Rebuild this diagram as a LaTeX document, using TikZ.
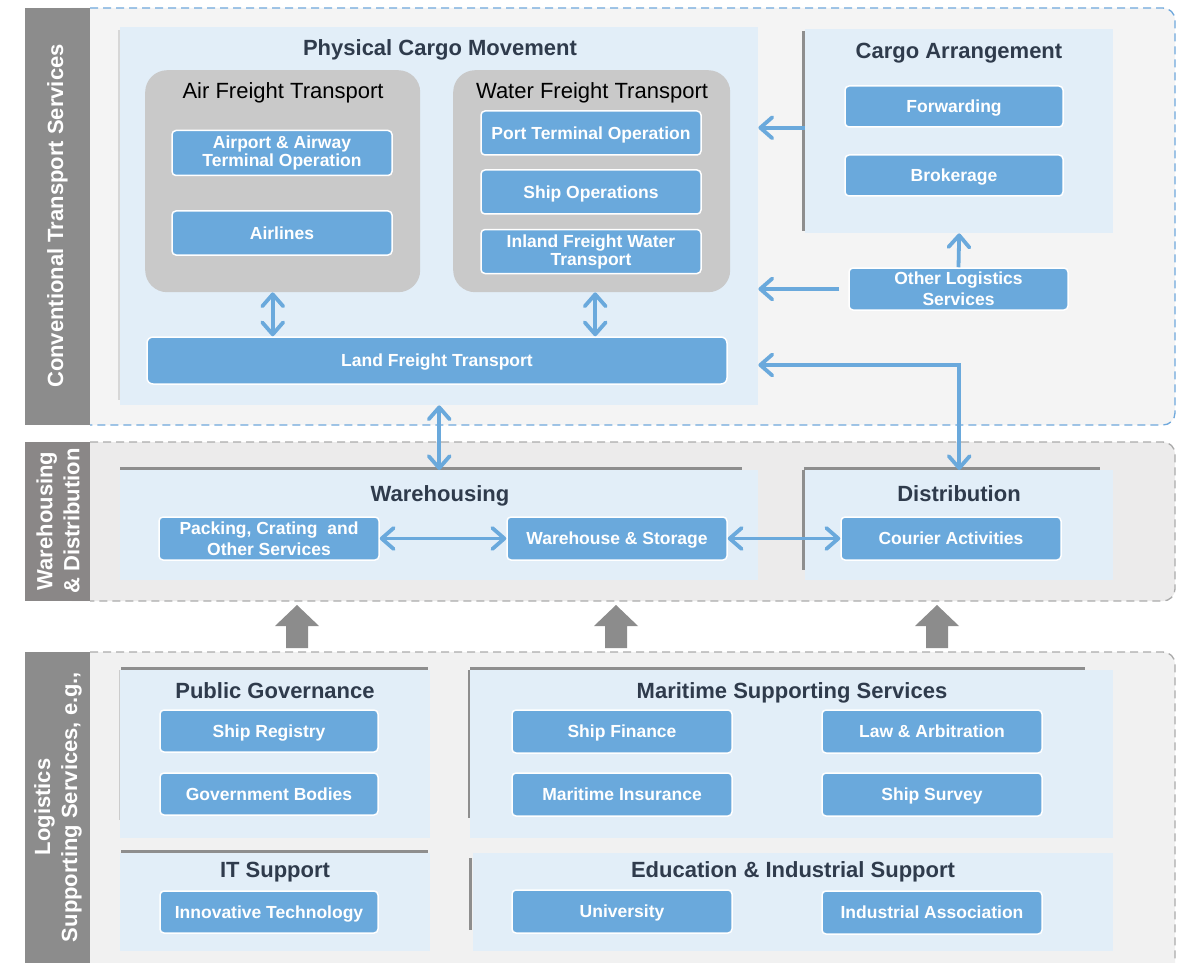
\documentclass[tikz,border=0pt]{standalone}
\usepackage{fontspec}
\setmainfont{Liberation Sans}
\usetikzlibrary{arrows.meta,calc}
\definecolor{boxblue}{HTML}{6AA9DC}
\definecolor{panelblue}{HTML}{E2EEF8}
\definecolor{arrowblue}{HTML}{6AA9DC}
\definecolor{sidegray}{HTML}{8C8C8C}
\definecolor{sidegrayB}{HTML}{8A8787}
\definecolor{titlecol}{HTML}{2F3B4C}
\definecolor{grouphue}{HTML}{C9C9C9}
\definecolor{bandA}{HTML}{F4F4F4}
\definecolor{bandB}{HTML}{ECEBEB}
\definecolor{bandC}{HTML}{F1F1F1}
\definecolor{shadowgray}{HTML}{8E8E8E}
\definecolor{dashgray}{HTML}{ABABAB}
\definecolor{dashblue}{HTML}{6FA8DC}
\begin{document}
\begin{tikzpicture}[x=1pt,y=-1pt,
  >={Straight Barb[length=12pt,width=21pt,round]},
  bbox/.style={draw=white, line width=1.5pt, fill=boxblue, rounded corners=4pt,
    text=white, font=\fontsize{17.5}{18}\selectfont\bfseries, align=center,
    inner sep=0pt, minimum width=220pt, minimum height=44pt},
  oneline/.style={text height=12.5pt, text depth=0pt},
  twoline/.style={font=\fontsize{17.5}{21}\selectfont\bfseries},
  panel/.style={fill=panelblue, inner sep=0pt, anchor=north west},
  group/.style={fill=grouphue, rounded corners=22pt, inner sep=0pt, anchor=north west},
  ptitle/.style={text=titlecol, font=\fontsize{22}{24}\selectfont\bfseries, inner sep=0pt, text height=15.8pt, text depth=0pt},
  gtitle/.style={text=black, font=\fontsize{22}{24}\selectfont, inner sep=0pt, text height=15.8pt, text depth=0pt},
  sidetxt/.style={text=white, font=\fontsize{22}{27}\selectfont\bfseries, align=center, rotate=90, inner sep=0pt},
  barrow/.style={draw=arrowblue, line width=3.8pt},
  bandline/.style={line width=1.3pt, dash pattern=on 8pt off 5pt, rounded corners=12pt},
  shadowline/.style={draw=shadowgray, line width=3.5pt},
  blockarrow/.style={fill=sidegray}
]
\useasboundingbox (0,0) rectangle (1179,963);
\fill[white] (0,0) rectangle (1179,963);

% ---------- bands ----------
\fill[bandA, rounded corners=12pt] (60,8) rectangle (1175,425);
\draw[bandline, draw=dashblue] (90,8) -- (1175,8) -- (1175,425) -- (90,425);
\fill[sidegray] (25,8) rectangle (90,425);
\node[sidetxt] (sideA) at (57.5,216) {Conventional Transport Services};

\fill[bandB, rounded corners=12pt] (60,442) rectangle (1175,601);
\draw[bandline, draw=dashgray] (90,442) -- (1175,442) -- (1175,601) -- (90,601);
\fill[sidegrayB] (25,442) rectangle (90,601);
\node[sidetxt] (sideB) at (58,521) {Warehousing\\\& Distribution};

\fill[bandC, rounded corners=12pt] (60,652) rectangle (1175,990);
\draw[bandline, draw=dashgray] (90,652) -- (1175,652) -- (1175,990);
\fill[sidegray] (25,652) rectangle (90,963);
\node[sidetxt] (sideC) at (58,807) {Logistics\\Supporting Services, e.g.,};

% ---------- panel shadows ----------
\draw[shadowgray!35, line width=2pt] (119,30) -- (119,400);
\draw[shadowline] (803.5,31) -- (803.5,231);
\draw[shadowline] (120,468.5) -- (742,468.5);
\draw[shadowline] (804,468.5) -- (1100,468.5);
\draw[shadowline] (803.5,470) -- (803.5,570);
\draw[shadowline] (121,668.5) -- (428,668.5);
\draw[shadowgray!45, line width=2pt] (120,670) -- (120,820);
\draw[shadowline] (121,851.5) -- (428,851.5);
\draw[shadowline] (470,668.5) -- (1085,668.5);
\draw[shadowline] (469.5,670) -- (469.5,818);
\draw[shadowline] (470.5,858) -- (470.5,930);

% ---------- panels ----------
\node[panel, minimum width=638pt, minimum height=378pt] (pcm) at (120,27) {};
\node[panel, minimum width=308pt, minimum height=204pt] (ca) at (805,29) {};
\node[panel, minimum width=638pt, minimum height=110pt] (wh) at (120,470) {};
\node[panel, minimum width=308pt, minimum height=110pt] (dist) at (805,470) {};
\node[panel, minimum width=310pt, minimum height=168pt] (pg) at (120,670) {};
\node[panel, minimum width=310pt, minimum height=98pt] (its) at (120,853) {};
\node[panel, minimum width=643pt, minimum height=168pt] (mss) at (470,670) {};
\node[panel, minimum width=640pt, minimum height=98pt] (eis) at (473,853) {};

\node[ptitle] (pcmT) at (440,48) {Physical Cargo Movement};
\node[ptitle] (caT) at (959,51) {Cargo Arrangement};
\node[ptitle] (whT) at (440,494) {Warehousing};
\node[ptitle] (distT) at (959,494) {Distribution};
\node[ptitle] (pgT) at (275,691) {Public Governance};
\node[ptitle] (itsT) at (275,870) {IT Support};
\node[ptitle] (mssT) at (792,691) {Maritime Supporting Services};
\node[ptitle] (eisT) at (793,870) {Education \& Industrial Support};

% ---------- groups ----------
\node[group, minimum width=275pt, minimum height=222pt] (airgrp) at (145,70) {};
\node[group, minimum width=277pt, minimum height=222pt] (watgrp) at (453,70) {};
\node[gtitle] (airT) at (283,91) {Air Freight Transport};
\node[gtitle] (watT) at (592,91) {Water Freight Transport};

% ---------- boxes ----------
\node[bbox, minimum height=45pt] (afo) at (282,153) {Airport \& Airway\\Terminal Operation};
\node[bbox, oneline] (airl) at (282,233) {Airlines};
\node[bbox, oneline] (pto) at (591,133) {Port Terminal Operation};
\node[bbox, oneline] (shipop) at (591,192) {Ship Operations};
\node[bbox] (ifwt) at (591,251.5) {Inland Freight Water\\Transport};
\node[bbox, oneline, minimum width=580pt, minimum height=47pt, rounded corners=6pt] (lft) at (437,360.5) {Land Freight Transport};
\node[bbox, oneline, minimum width=218pt, minimum height=41pt] (fwd) at (954,106.5) {Forwarding};
\node[bbox, oneline, minimum width=218pt, minimum height=41pt] (brk) at (954,175.5) {Brokerage};
\node[bbox, twoline, minimum width=219pt, minimum height=42pt] (ols) at (958.5,289) {Other Logistics\\Services};

\node[bbox, twoline, minimum height=43pt] (pack) at (269,538.5) {Packing, Crating~ and\\Other Services};
\node[bbox, oneline, minimum height=43pt] (whs) at (617,538.5) {Warehouse \& Storage};
\node[bbox, oneline, minimum height=43pt] (cour) at (951,538.5) {Courier Activities};

\node[bbox, oneline, minimum width=218pt, minimum height=42pt] (sreg) at (269,731) {Ship Registry};
\node[bbox, oneline, minimum width=218pt, minimum height=42pt] (gov) at (269,794) {Government Bodies};
\node[bbox, oneline, minimum width=218pt, minimum height=42pt] (inno) at (269,912) {Innovative Technology};
\node[bbox, oneline, minimum height=43pt] (sfin) at (622,731.5) {Ship Finance};
\node[bbox, oneline, minimum height=43pt] (law) at (932,731.5) {Law \& Arbitration};
\node[bbox, oneline, minimum height=43pt] (mins) at (622,794.5) {Maritime Insurance};
\node[bbox, oneline, minimum height=43pt] (ssur) at (932,794.5) {Ship Survey};
\node[bbox, oneline, minimum height=43pt] (univ) at (622,911.5) {University};
\node[bbox, oneline, minimum height=43pt] (ind) at (932,912.5) {Industrial Association};

% ---------- blue connectors ----------
\draw[barrow, ->] (ca.west |- fwd.south) -- (pcm.east |- fwd.south);
\draw[barrow, ->] (ols.north) -- (ca.south);
\draw[barrow, ->, shorten <=9pt] (ols.west) -- (pcm.east |- ols.west);
\coordinate (bend) at (959,365);
\draw[barrow, <->] (pcm.east |- bend) -| (dist.north);
\draw[barrow, <->] (pcm.south) -- (wh.north);
\draw[barrow, <->] ([xshift=-10pt]airgrp.south) -- ([xshift=-10pt]airgrp.south |- lft.north);
\draw[barrow, <->] ([xshift=3.5pt]watgrp.south) -- ([xshift=3.5pt]watgrp.south |- lft.north);
\draw[barrow, <->] (pack.east) -- (whs.west);
\draw[barrow, <->] (whs.east) -- (cour.west);

% ---------- gray block arrows ----------
\foreach \cx in {297,616,937}{
  \fill[blockarrow] (\cx-11,648) -- (\cx-11,626) -- (\cx-22,626) -- (\cx,605)
     -- (\cx+22,626) -- (\cx+11,626) -- (\cx+11,648) -- cycle;
}
\end{tikzpicture}
\end{document}
